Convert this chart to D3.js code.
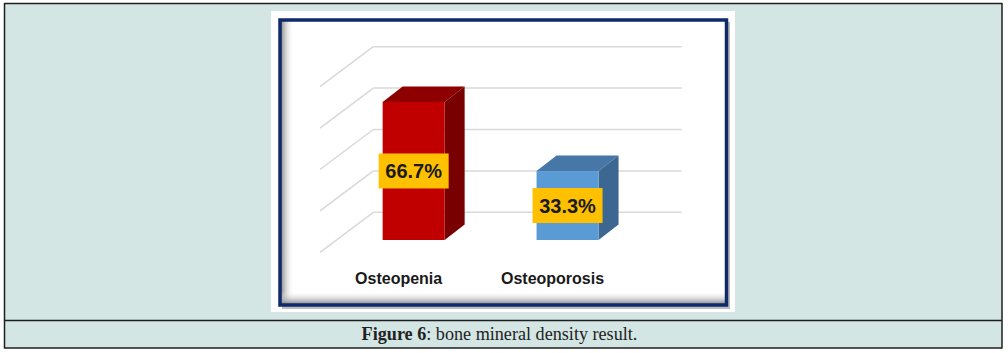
<!DOCTYPE html>
<html>
<head>
<meta charset="utf-8">
<script src="https://cdn.jsdelivr.net/npm/d3@7"></script>
<style>
  html, body { margin: 0; padding: 0; background: #fff; }
  svg { display: block; }
</style>
</head>
<body>
<svg id="chart" width="1008" height="353"></svg>
<script>
// ---- data ----
const categories = ["Osteopenia", "Osteoporosis"];
const values = [66.7, 33.3];
const valueLabels = ["66.7%", "33.3%"];
const gridTicks = [0, 20, 40, 60, 80];
const frontColors = ["#C00000", "#5B9BD5"];
const topColors = ["#8E0000", "#4677A6"];
const sideColors = ["#780000", "#3B6790"];
const captionBold = "Figure 6";
const captionRest = ": bone mineral density result.";

const svg = d3.select("#chart");

// page background and rules
svg.append("rect").attr("x", 0).attr("y", 0).attr("width", 1008).attr("height", 353).attr("fill", "#fff");
svg.append("rect").attr("x", 4.5).attr("y", 3.5).attr("width", 997.5).attr("height", 344.5)
  .attr("fill", "#D3E6E4");
const rule = "#1e1e1e";
svg.append("line").attr("x1", 4.5).attr("x2", 1002).attr("y1", 3.5).attr("y2", 3.5).attr("stroke", rule).attr("stroke-width", 1.5);
svg.append("line").attr("x1", 4.5).attr("x2", 4.5).attr("y1", 3).attr("y2", 348.5).attr("stroke", rule).attr("stroke-width", 1.5);
svg.append("line").attr("x1", 1002).attr("x2", 1002).attr("y1", 3).attr("y2", 348.5).attr("stroke", rule).attr("stroke-width", 1.5);
svg.append("line").attr("x1", 4.5).attr("x2", 1002).attr("y1", 320.5).attr("y2", 320.5).attr("stroke", rule).attr("stroke-width", 1.5);
svg.append("line").attr("x1", 4.5).attr("x2", 1002).attr("y1", 348).attr("y2", 348).attr("stroke", rule).attr("stroke-width", 1.5);

// image frame
svg.append("rect").attr("x", 271).attr("y", 11).attr("width", 464).attr("height", 301).attr("fill", "#fff");
const defs = svg.append("defs");
const gl = defs.append("linearGradient").attr("id", "gLeft").attr("x1", 0).attr("x2", 1).attr("y1", 0).attr("y2", 0);
gl.append("stop").attr("offset", 0).attr("stop-color", "#8a8a8a");
gl.append("stop").attr("offset", 1).attr("stop-color", "#fff").attr("stop-opacity", 0);
const gb = defs.append("linearGradient").attr("id", "gBot").attr("x1", 0).attr("x2", 0).attr("y1", 1).attr("y2", 0);
gb.append("stop").attr("offset", 0).attr("stop-color", "#8a8a8a");
gb.append("stop").attr("offset", 1).attr("stop-color", "#fff").attr("stop-opacity", 0);
// drop shadow outside frame
svg.append("rect").attr("x", 282).attr("y", 22).attr("width", 448).attr("height", 287).attr("fill", "#bdbdbd");
svg.append("rect").attr("x", 280).attr("y", 20).attr("width", 446.5).attr("height", 285).attr("fill", "#fff");
svg.append("rect").attr("x", 281).attr("y", 20).attr("width", 13).attr("height", 285).attr("fill", "url(#gLeft)");
svg.append("rect").attr("x", 280).attr("y", 291).attr("width", 446.5).attr("height", 13).attr("fill", "url(#gBot)");
svg.append("rect").attr("x", 280).attr("y", 20).attr("width", 446.5).attr("height", 285)
  .attr("fill", "none").attr("stroke", "#0E2A6A").attr("stroke-width", 3.5);

// ---- scales ----
const y = d3.scaleLinear().domain([0, 80]).range([212.3, 46.7]); // back wall
const wallDX = 53.3, wallDY = 40;   // back wall -> front edge offset
const barOff = 27.7;                // back wall -> bar front face vertical offset
const depthDX = 20, depthDY = -15.5;
const x = d3.scalePoint().domain(categories).range([336.7, 644.5]).padding(0.5);
const barW = 62;
const wallX0 = 373.3, wallX1 = 681.7;

// gridlines: back wall horizontals and side wall diagonals
const grid = svg.append("g");
gridTicks.forEach(t => {
  grid.append("line").attr("x1", wallX0).attr("x2", wallX1).attr("y1", y(t)).attr("y2", y(t))
    .attr("stroke", "#d9d9d9").attr("stroke-width", 1.5);
  grid.append("line").attr("x1", wallX0 - wallDX).attr("y1", y(t) + wallDY)
    .attr("x2", wallX0).attr("y2", y(t))
    .attr("stroke", "#d9d9d9").attr("stroke-width", 1.5);
});

// bars
const bars = svg.append("g");
categories.forEach((c, i) => {
  const cx = x(c);
  const x0 = cx - barW / 2, x1 = cx + barW / 2;
  const yt = y(values[i]) + barOff, yb = y(0) + barOff;
  // top
  bars.append("path").attr("d", `M${x0},${yt}L${x0 + depthDX},${yt + depthDY}L${x1 + depthDX},${yt + depthDY}L${x1},${yt}Z`)
    .attr("fill", topColors[i]);
  // side
  bars.append("path").attr("d", `M${x1},${yt}L${x1 + depthDX},${yt + depthDY}L${x1 + depthDX},${yb + depthDY}L${x1},${yb}Z`)
    .attr("fill", sideColors[i]);
  // front
  bars.append("rect").attr("x", x0).attr("y", yt).attr("width", barW).attr("height", yb - yt)
    .attr("fill", frontColors[i]);
  // value label
  const my = (yt + yb) / 2;
  bars.append("rect").attr("x", cx - 35).attr("y", my - 17.5).attr("width", 70).attr("height", 35)
    .attr("fill", "#FFC000");
  bars.append("text").attr("x", cx).attr("y", my + 7.2).attr("text-anchor", "middle")
    .attr("font-family", "Liberation Sans, Arial, sans-serif").attr("font-weight", "bold")
    .attr("font-size", 20).attr("fill", "#1a1a1a").text(valueLabels[i]);
  // category label
  bars.append("text").attr("x", cx - 15).attr("y", 283.5).attr("text-anchor", "middle")
    .attr("font-family", "Liberation Sans, Arial, sans-serif").attr("font-weight", "bold")
    .attr("font-size", 16).attr("fill", "#1a1a1a").text(c);
});

// caption
const cap = svg.append("text").attr("x", 499.5).attr("y", 340).attr("text-anchor", "middle")
  .attr("font-family", "Liberation Serif, 'Times New Roman', serif").attr("font-size", 17).attr("fill", "#222");
cap.append("tspan").attr("font-weight", "bold").text(captionBold);
cap.append("tspan").text(captionRest);
const w = cap.node().getComputedTextLength();
cap.attr("font-size", 17 * 276 / w);
</script>
</body>
</html>
